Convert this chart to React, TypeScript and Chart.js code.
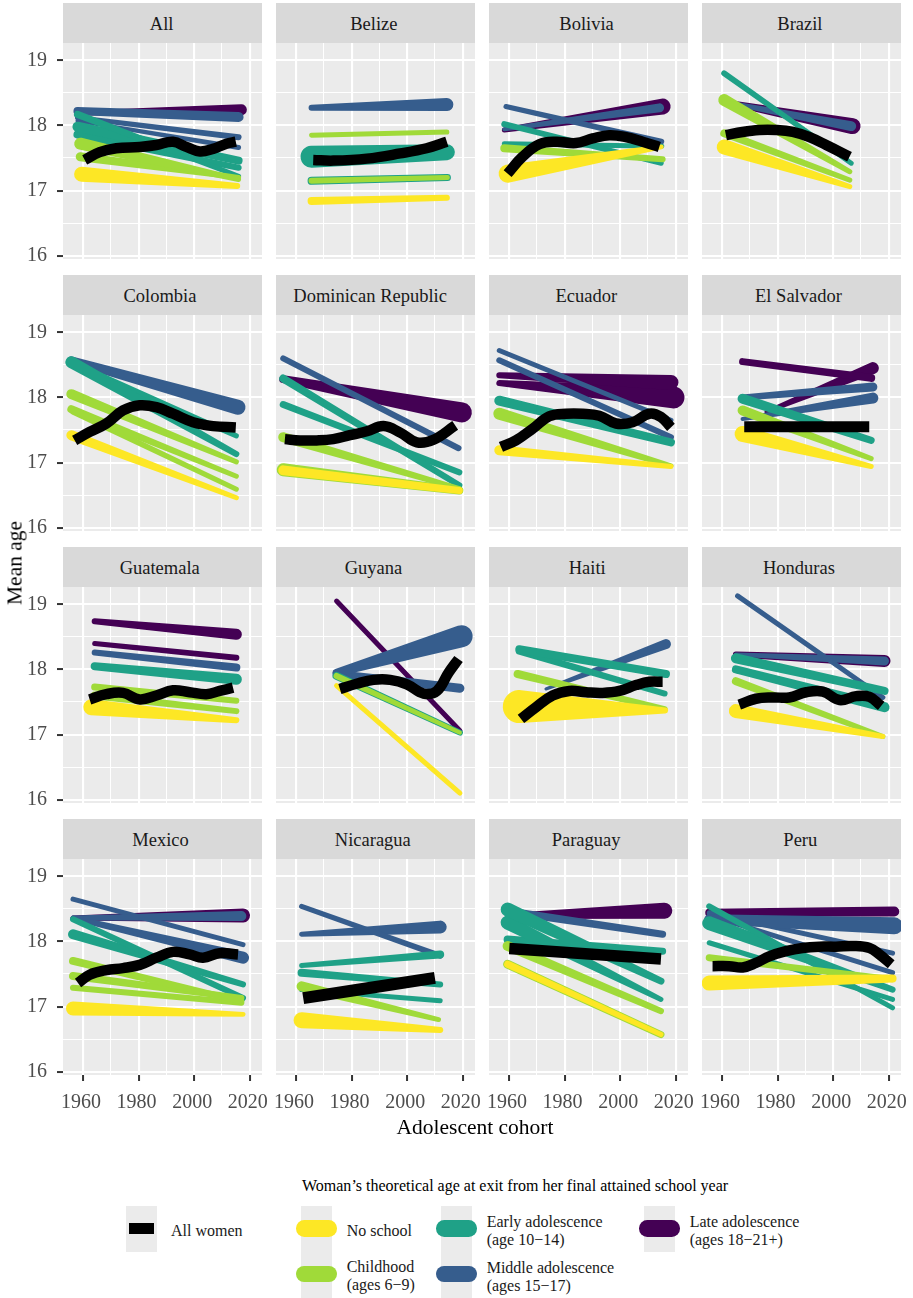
import React, { useEffect, useRef } from 'react';
import { Chart, registerables } from 'chart.js';

Chart.register(...registerables);

// ---------------- data ----------------
const PANELS = ['All', 'Belize', 'Bolivia', 'Brazil', 'Colombia', 'Dominican Republic', 'Ecuador', 'El Salvador',
  'Guatemala', 'Guyana', 'Haiti', 'Honduras', 'Mexico', 'Nicaragua', 'Paraguay', 'Peru'];

const CATEGORIES = ['No school', 'Childhood', 'Early adolescence', 'Middle adolescence', 'Late adolescence'];
const CATEGORY_SUB = ['', '(ages 6\u22129)', '(age 10\u221214)', '(ages 15\u221217)', '(ages 18\u221221+)'];
const CATEGORY_COLORS = ['#FDE725', '#A0DA39', '#1FA187', '#365D8D', '#440154'];

const X_TICKS = [1960, 1970, 1980, 1990, 2000, 2010, 2020];
const Y_TICKS = [16, 16.5, 17, 17.5, 18, 18.5, 19];

// each row: [category, startCohort, startAge, endCohort, endAge, startWeight, endWeight]
const allLines = [
  [4, 1958, 18.19, 2017, 18.24, 5, 11],
  [3, 1958, 18.22, 2016, 18.13, 8, 10],
  [3, 1958, 18.12, 2016, 17.82, 5, 6],
  [3, 1958, 18.07, 2016, 17.66, 4, 5],
  [2, 1958, 18.17, 2016, 17.22, 7, 5],
  [2, 1958, 17.98, 2016, 17.46, 10, 8],
  [2, 1958, 17.86, 2016, 17.35, 8, 6],
  [1, 1959, 17.72, 2016, 17.17, 12, 5],
  [1, 1959, 17.52, 2016, 17.2, 9, 5],
  [0, 1959.5, 17.25, 2015.5, 17.07, 15, 6],
];
const allCohort = [1960.6, 1966, 1972, 1980.4, 1986.4, 1992.4, 1997.2, 2002, 2006.8, 2011.6, 2015];
const allAge = [17.47, 17.59, 17.65, 17.67, 17.7, 17.75, 17.67, 17.6, 17.64, 17.72, 17.75];

const belizeLines = [
  [3, 1965.6, 18.27, 2014.3, 18.32, 6, 13],
  [1, 1965.6, 17.85, 2014.3, 17.9, 5, 5],
  [2, 1965.6, 17.52, 2014.3, 17.59, 22, 16],
  [2, 1965.6, 17.15, 2014.5, 17.2, 8, 7],
  [1, 1965.6, 17.15, 2014.5, 17.2, 6, 5],
  [0, 1965.6, 16.84, 2014.3, 16.89, 8, 6],
];
const belizeCohort = [1966.2, 1973.4, 1985.5, 1997.5, 2007, 2014.3];
const belizeAge = [17.47, 17.46, 17.49, 17.57, 17.65, 17.75];

const boliviaLines = [
  [4, 1958.3, 17.93, 2015.3, 18.29, 5, 16],
  [3, 1958.3, 17.94, 2014.2, 18.27, 4, 9],
  [3, 1958.9, 18.29, 2014.8, 17.75, 5, 6],
  [2, 1958.3, 18.02, 2014.8, 17.42, 6, 5],
  [2, 1958.3, 17.72, 2015, 17.68, 5, 5],
  [1, 1958.3, 17.65, 2015.3, 17.48, 8, 6],
  [0, 1959.5, 17.26, 2014.8, 17.67, 18, 5],
];
const boliviaCohort = [1959.5, 1964.9, 1970.9, 1976.9, 1984.1, 1990.1, 1996.1, 2002.1, 2008.1, 2014.1];
const boliviaAge = [17.26, 17.52, 17.71, 17.75, 17.73, 17.8, 17.85, 17.82, 17.75, 17.67];

const brazilLines = [
  [4, 1961, 18.36, 2007, 17.99, 5, 16],
  [3, 1961, 18.36, 2006.5, 17.99, 4, 10],
  [2, 1960.8, 18.8, 2006.5, 17.42, 6, 5],
  [1, 1960.8, 18.39, 2006, 17.29, 12, 5],
  [1, 1960.8, 17.88, 2006, 17.16, 8, 5],
  [0, 1960.8, 17.67, 2006, 17.06, 15, 5],
];
const brazilCohort = [1961.4, 1967.4, 1973.4, 1979.4, 1985.5, 1991.5, 1997.5, 2005.9];
const brazilAge = [17.85, 17.9, 17.93, 17.93, 17.9, 17.82, 17.7, 17.52];

const colombiaLines = [
  [3, 1955.8, 18.57, 2015.8, 17.85, 8, 15],
  [2, 1955.8, 18.54, 2015.2, 17.13, 12, 6],
  [2, 1955.8, 18.52, 2015.2, 17.41, 8, 5],
  [1, 1955.8, 18.05, 2015.2, 17.01, 10, 5],
  [1, 1955.8, 17.82, 2015.2, 16.79, 8, 5],
  [1, 1956.5, 17.78, 2015.2, 16.59, 6, 5],
  [0, 1955.8, 17.42, 2015.2, 16.46, 10, 5],
];
const colombiaCohort = [1957, 1962.4, 1968.4, 1974.4, 1980.4, 1986.4, 1992.4, 1999.6, 2006.8, 2015];
const colombiaAge = [17.34, 17.47, 17.6, 17.8, 17.88, 17.85, 17.75, 17.62, 17.56, 17.54];

const dominicanLines = [
  [4, 1955.4, 18.28, 2019.7, 17.77, 8, 20],
  [3, 1955.4, 18.6, 2018.5, 17.22, 6, 6],
  [2, 1955.4, 18.29, 2018.8, 16.65, 8, 6],
  [2, 1955.4, 17.89, 2018.8, 16.85, 7, 6],
  [1, 1955.4, 17.39, 2018.8, 16.6, 10, 5],
  [1, 1955.4, 16.89, 2018.8, 16.57, 13, 8],
  [0, 1955.4, 16.88, 2018.8, 16.57, 10, 7],
];
const dominicanCohort = [1956, 1961.4, 1967.4, 1973.4, 1979.4, 1985.5, 1991.5, 1997.5, 2003.5, 2009.5, 2017.3];
const dominicanAge = [17.36, 17.34, 17.34, 17.36, 17.42, 17.48, 17.56, 17.46, 17.31, 17.35, 17.57];

const ecuadorLines = [
  [4, 1956.5, 18.34, 2018.3, 18.23, 6, 15],
  [4, 1956.5, 18.22, 2019.2, 18.0, 6, 22],
  [3, 1956.5, 18.72, 2018.3, 17.65, 5, 5],
  [3, 1956.5, 18.57, 2018.3, 17.39, 6, 6],
  [2, 1956.5, 17.95, 2018.3, 17.31, 10, 8],
  [1, 1956.5, 17.75, 2018.3, 16.95, 12, 5],
  [0, 1956.5, 17.19, 2018.3, 16.94, 10, 5],
];
const ecuadorCohort = [1957.1, 1962.5, 1968.5, 1974.5, 1980.5, 1986.5, 1992.5, 1998.5, 2004.5, 2010.5, 2014.7, 2018.3];
const ecuadorAge = [17.24, 17.34, 17.52, 17.71, 17.75, 17.75, 17.72, 17.6, 17.62, 17.75, 17.7, 17.54];

const elSalvadorLines = [
  [4, 1967.4, 18.55, 2013.7, 18.3, 7, 8],
  [4, 1976, 17.78, 2014.3, 18.45, 4, 12],
  [3, 1967.4, 18.0, 2014.3, 18.16, 6, 9],
  [3, 1967.4, 17.67, 2014.3, 17.99, 4, 11],
  [2, 1967.4, 17.98, 2013.7, 17.34, 10, 7],
  [1, 1967.4, 17.8, 2013.7, 17.06, 10, 5],
  [0, 1967.4, 17.44, 2013.7, 16.94, 16, 5],
];
const elSalvadorCohort = [1968, 2013];
const elSalvadorAge = [17.55, 17.55];

const guatemalaLines = [
  [4, 1964.2, 18.74, 2015.2, 18.54, 6, 11],
  [4, 1964.2, 18.4, 2015.2, 18.18, 5, 6],
  [3, 1964.2, 18.26, 2015.2, 18.03, 6, 8],
  [2, 1964.2, 18.05, 2015.2, 17.85, 8, 11],
  [1, 1964.2, 17.73, 2015.2, 17.52, 7, 6],
  [1, 1964.2, 17.6, 2015.2, 17.36, 8, 6],
  [0, 1963, 17.42, 2015.2, 17.22, 16, 6],
];
const guatemalaCohort = [1962.4, 1968.4, 1974.4, 1980.4, 1986.4, 1992.4, 1998.4, 2004.4, 2009.2, 2014];
const guatemalaAge = [17.54, 17.62, 17.64, 17.54, 17.6, 17.68, 17.65, 17.62, 17.67, 17.72];

const guyanaLines = [
  [4, 1974.6, 19.05, 2019, 17.06, 5, 5],
  [3, 1974.6, 17.95, 2019.6, 18.51, 8, 22],
  [3, 1974.6, 17.93, 2019, 17.71, 8, 9],
  [2, 1974.6, 17.9, 2019, 17.03, 8, 6],
  [1, 1974.6, 17.9, 2019, 17.03, 6, 4],
  [0, 1974.6, 17.75, 2019, 16.1, 5, 5],
];
const guyanaCohort = [1975.8, 1981.8, 1987.9, 1993.9, 1999.9, 2005.9, 2010.7, 2014.9, 2018.5];
const guyanaAge = [17.7, 17.78, 17.84, 17.84, 17.77, 17.63, 17.67, 17.95, 18.16];

const haitiLines = [
  [3, 1973.3, 17.7, 2016.5, 18.39, 3, 10],
  [2, 1963.7, 18.31, 2016.5, 17.93, 8, 8],
  [2, 1963.7, 18.28, 2016, 17.63, 7, 6],
  [1, 1963.1, 17.93, 2016, 17.39, 8, 6],
  [0, 1963.7, 17.43, 2016.2, 17.37, 33, 6],
];
const haitiCohort = [1964.3, 1969.7, 1975.7, 1981.7, 1987.7, 1993.7, 1999.7, 2005.7, 2010.5, 2015.3];
const haitiAge = [17.24, 17.42, 17.6, 17.67, 17.65, 17.64, 17.67, 17.76, 17.81, 17.81];

const hondurasLines = [
  [4, 1965, 18.23, 2018.5, 18.13, 6, 12],
  [3, 1965.6, 19.13, 2017.9, 17.57, 5, 5],
  [3, 1965, 18.23, 2018.5, 18.13, 4, 9],
  [2, 1965, 18.17, 2018.5, 17.67, 10, 8],
  [2, 1965, 18.0, 2018.5, 17.42, 8, 10],
  [1, 1965, 17.82, 2017.9, 16.97, 8, 5],
  [0, 1965, 17.36, 2017.9, 16.97, 14, 5],
];
const hondurasCohort = [1966.2, 1972.2, 1978.2, 1984.2, 1990.3, 1996.3, 2002.3, 2008.3, 2013.1, 2017.3];
const hondurasAge = [17.46, 17.55, 17.57, 17.57, 17.65, 17.66, 17.53, 17.59, 17.58, 17.44];

const mexicoLines = [
  [4, 1956.4, 18.36, 2017.6, 18.4, 5, 14],
  [3, 1956.4, 18.36, 2017, 18.39, 5, 10],
  [3, 1956.4, 18.65, 2017.6, 17.95, 5, 5],
  [3, 1956.4, 18.36, 2017.6, 17.75, 5, 12],
  [2, 1956.4, 18.34, 2017.6, 17.13, 6, 6],
  [2, 1956.4, 18.11, 2017.6, 17.34, 10, 6],
  [1, 1956.4, 17.7, 2017, 17.08, 8, 6],
  [1, 1956.4, 17.47, 2017, 17.13, 8, 6],
  [1, 1956.4, 17.29, 2017, 17.06, 6, 6],
  [0, 1956.4, 16.97, 2017.6, 16.88, 14, 5],
];
const mexicoCohort = [1958.2, 1962.4, 1968.4, 1974.4, 1980.4, 1986.4, 1992.4, 1998.4, 2003.2, 2009.2, 2015.8];
const mexicoAge = [17.36, 17.49, 17.56, 17.59, 17.64, 17.75, 17.84, 17.8, 17.75, 17.82, 17.8];

const nicaraguaLines = [
  [3, 1962, 18.54, 2011.9, 17.78, 5, 6],
  [3, 1962, 18.11, 2011.9, 18.22, 5, 13],
  [2, 1962, 17.63, 2011.9, 17.8, 5, 8],
  [2, 1962, 17.52, 2011.9, 17.34, 8, 6],
  [2, 1962, 17.26, 2011.9, 17.09, 5, 5],
  [1, 1962, 17.31, 2011.3, 16.8, 10, 5],
  [0, 1962, 16.79, 2011.9, 16.64, 16, 6],
];
const nicaraguaCohort = [1962.6, 2010];
const nicaraguaAge = [17.13, 17.44];

const paraguayLines = [
  [4, 1960, 18.39, 2015.9, 18.47, 6, 16],
  [3, 1960, 18.46, 2015.3, 18.11, 8, 7],
  [2, 1959.5, 18.49, 2014.7, 17.39, 14, 7],
  [2, 1959.5, 18.29, 2014.7, 17.11, 14, 5],
  [2, 1959.5, 18.03, 2015.3, 17.85, 8, 7],
  [1, 1959.5, 17.93, 2014.7, 16.93, 10, 6],
  [1, 1959.5, 17.65, 2014.7, 16.57, 9, 7],
  [0, 1959.5, 17.65, 2014.7, 16.57, 7, 5],
];
const paraguayCohort = [1960.1, 2014.7];
const paraguayAge = [17.89, 17.73];

const peruLines = [
  [4, 1955.4, 18.44, 2022, 18.46, 8, 10],
  [3, 1955.4, 18.34, 2022, 18.24, 10, 17],
  [3, 1955.4, 18.44, 2021.4, 17.82, 5, 5],
  [3, 1955.4, 18.4, 2021.4, 17.52, 5, 5],
  [2, 1955.4, 18.54, 2021.4, 16.98, 6, 5],
  [2, 1955.4, 18.28, 2021.4, 17.26, 14, 6],
  [2, 1955.4, 17.98, 2021.4, 17.11, 5, 5],
  [1, 1955.4, 17.75, 2021.4, 17.42, 7, 6],
  [0, 1955.4, 17.36, 2021.4, 17.43, 15, 8],
];
const peruCohort = [1956.6, 1962.6, 1967.4, 1972.2, 1977, 1983, 1989, 1995, 2001, 2007.1, 2013.1, 2016.7, 2020.9];
const peruAge = [17.62, 17.62, 17.6, 17.67, 17.77, 17.85, 17.9, 17.92, 17.92, 17.93, 17.9, 17.8, 17.65];

const PANEL_LINES = [allLines, belizeLines, boliviaLines, brazilLines, colombiaLines, dominicanLines, ecuadorLines,
  elSalvadorLines, guatemalaLines, guyanaLines, haitiLines, hondurasLines, mexicoLines, nicaraguaLines, paraguayLines, peruLines];
const PANEL_COHORT = [allCohort, belizeCohort, boliviaCohort, brazilCohort, colombiaCohort, dominicanCohort, ecuadorCohort,
  elSalvadorCohort, guatemalaCohort, guyanaCohort, haitiCohort, hondurasCohort, mexicoCohort, nicaraguaCohort, paraguayCohort, peruCohort];
const PANEL_AGE = [allAge, belizeAge, boliviaAge, brazilAge, colombiaAge, dominicanAge, ecuadorAge,
  elSalvadorAge, guatemalaAge, guyanaAge, haitiAge, hondurasAge, mexicoAge, nicaraguaAge, paraguayAge, peruAge];

// ---------------- layout / style ----------------
const SERIF = "'Liberation Serif', 'Times New Roman', serif";
const COL_LEFT = [63, 276, 489, 702];
const ROW_TOP = [43, 315, 587, 859];
const PANEL_W = 199;
const PANEL_H = 216;
const STRIP_H = 40;
const M = 24;
const YAXIS_W = 63;
const XAXIS_H = 45;
const X_MIN = 1952.8;
const X_MAX = 2024.43;
const Y_MIN = 15.949;
const Y_MAX = 19.266;
const WIDTH_PER_WEIGHT = 1;

const panelBg = {
  id: 'panelBg',
  beforeDraw(chart: any) {
    const { ctx, chartArea: a } = chart;
    ctx.save();
    ctx.fillStyle = '#EBEBEB';
    ctx.fillRect(a.left, a.top, a.right - a.left, a.bottom - a.top);
    ctx.restore();
  },
};

function drawTaper(ctx: CanvasRenderingContext2D, x0: number, y0: number, r0: number, x1: number, y1: number, r1: number) {
  const dx = x1 - x0, dy = y1 - y0;
  const d = Math.hypot(dx, dy);
  const th = Math.atan2(dy, dx);
  ctx.beginPath();
  if (d <= Math.abs(r0 - r1) + 0.01) {
    const r = Math.max(r0, r1);
    ctx.arc(r0 >= r1 ? x0 : x1, r0 >= r1 ? y0 : y1, r, 0, Math.PI * 2);
  } else {
    const a = Math.acos((r0 - r1) / d);
    ctx.arc(x0, y0, r0, th + a, th - a + Math.PI * 2);
    ctx.arc(x1, y1, r1, th - a, th + a);
    ctx.closePath();
  }
  ctx.fill();
}

const taperPlugin = {
  id: 'taper',
  beforeDatasetDraw(chart: any, args: any) {
    const ds = chart.data.datasets[args.index];
    if (!ds.taper) return;
    const pts = args.meta.data;
    if (!pts || pts.length < 2) return false;
    const ctx = chart.ctx;
    const a = chart.chartArea;
    ctx.save();
    ctx.beginPath();
    ctx.rect(a.left, a.top, a.right - a.left, a.bottom - a.top);
    ctx.clip();
    ctx.fillStyle = ds.taperColor;
    drawTaper(ctx, pts[0].x, pts[0].y, (ds.taper[0] * WIDTH_PER_WEIGHT) / 2, pts[1].x, pts[1].y, (ds.taper[1] * WIDTH_PER_WEIGHT) / 2);
    ctx.restore();
    return false;
  },
};

const ALL_WOMEN_WIDTH = [10.5, 10.5, 10.5, 10.5, 10.5, 10.5, 10.5, 11, 10.5, 10.5, 10.5, 10.5, 10.5, 12, 11.5, 10.5];

function buildConfig(idx: number): any {
  const row = Math.floor(idx / 4);
  const col = idx % 4;
  const isLeft = col === 0;
  const isBottom = row === 3;
  const datasets: any[] = [];
  PANEL_LINES[idx].forEach((r) => {
    const [cat, x0, y0, x1, y1, w0, w1] = r;
    datasets.push({
      label: CATEGORIES[cat],
      data: [{ x: x0, y: y0 }, { x: x1, y: y1 }],
      taper: [w0, w1],
      taperColor: CATEGORY_COLORS[cat],
      order: cat + 1,
      showLine: false,
      pointRadius: 0,
      pointHoverRadius: 0,
      borderWidth: 0,
      backgroundColor: CATEGORY_COLORS[cat],
      borderColor: CATEGORY_COLORS[cat],
    });
  });
  datasets.push({
    label: 'All women',
    data: PANEL_COHORT[idx].map((x, i) => ({ x, y: PANEL_AGE[idx][i] })),
    showLine: true,
    borderColor: '#000000',
    backgroundColor: '#000000',
    borderWidth: ALL_WOMEN_WIDTH[idx],
    tension: 0.4,
    pointRadius: 0,
    pointHoverRadius: 0,
    borderCapStyle: 'butt',
    borderJoinStyle: 'round',
    order: 0,
    fill: false,
  });

  const tickFont = { family: SERIF, size: 20 };
  return {
    type: 'scatter',
    data: { datasets },
    options: {
      animation: false,
      responsive: false,
      maintainAspectRatio: false,
      devicePixelRatio: 1,
      events: [],
      layout: { padding: { left: isLeft ? 0 : M, right: M, top: M, bottom: M } },
      plugins: { legend: { display: false }, tooltip: { enabled: false }, title: { display: false } },
      scales: {
        x: {
          type: 'linear',
          min: X_MIN,
          max: X_MAX,
          afterBuildTicks: (s: any) => { s.ticks = X_TICKS.map((v) => ({ value: v })); },
          afterFit: (s: any) => { s.height = isBottom ? XAXIS_H : 0; },
          border: { display: false },
          grid: {
            color: '#FFFFFF',
            lineWidth: (c: any) => (c.tick && c.tick.value % 20 === 0 ? 2.1 : 1.05),
            drawTicks: isBottom,
            tickLength: 6,
            tickWidth: 2,
            tickColor: (c: any) => (c.tick && c.tick.value % 20 === 0 ? '#333333' : 'rgba(0,0,0,0)'),
          },
          ticks: {
            display: isBottom,
            autoSkip: false,
            maxRotation: 0,
            minRotation: 0,
            padding: 10,
            labelOffset: -2,
            color: '#4D4D4D',
            font: tickFont,
            callback: (v: any) => (Number(v) % 20 === 0 ? String(v) : ''),
          },
        },
        y: {
          type: 'linear',
          min: Y_MIN,
          max: Y_MAX,
          afterBuildTicks: (s: any) => { s.ticks = Y_TICKS.map((v) => ({ value: v })); },
          afterFit: (s: any) => { s.width = isLeft ? YAXIS_W : 0; },
          border: { display: false },
          grid: {
            color: '#FFFFFF',
            lineWidth: (c: any) => (c.tick && Number.isInteger(c.tick.value) ? 2.1 : 1.05),
            drawTicks: isLeft,
            tickLength: 6,
            tickWidth: 2,
            tickColor: (c: any) => (c.tick && Number.isInteger(c.tick.value) ? '#333333' : 'rgba(0,0,0,0)'),
          },
          ticks: {
            display: isLeft,
            autoSkip: false,
            padding: 10,
            color: '#4D4D4D',
            font: tickFont,
            callback: (v: any) => (Number.isInteger(Number(v)) ? String(v) : ''),
          },
        },
      },
    },
    plugins: [panelBg, taperPlugin],
  };
}

function Panel({ idx }: { idx: number }) {
  const ref = useRef<HTMLCanvasElement>(null);
  const row = Math.floor(idx / 4);
  const col = idx % 4;
  const left = col === 0 ? 0 : COL_LEFT[col] - M;
  const width = (col === 0 ? YAXIS_W : M) + PANEL_W + M;
  const top = ROW_TOP[row] - M;
  const height = M + PANEL_H + (row === 3 ? XAXIS_H : 0) + M;
  useEffect(() => {
    if (!ref.current) return;
    const chart = new Chart(ref.current, buildConfig(idx));
    return () => chart.destroy();
  }, [idx]);
  return (
    <canvas
      ref={ref}
      width={width}
      height={height}
      style={{ position: 'absolute', left, top, width, height }}
    />
  );
}

function Strip({ idx }: { idx: number }) {
  const row = Math.floor(idx / 4);
  const col = idx % 4;
  return (
    <div
      style={{
        position: 'absolute',
        left: COL_LEFT[col],
        top: ROW_TOP[row] - STRIP_H,
        width: PANEL_W,
        height: STRIP_H,
        background: '#D9D9D9',
        color: '#1A1A1A',
        fontFamily: SERIF,
        fontSize: 18.5,
        display: 'flex',
        alignItems: 'center',
        justifyContent: 'center',
        whiteSpace: 'nowrap',
      }}
    >
      <span style={{ display: 'inline-block', transform: 'translate(-3.5%, 1px)' }}>{PANELS[idx]}</span>
    </div>
  );
}

const textStyle = (left: number, top: number, size = 16): React.CSSProperties => ({
  position: 'absolute',
  left,
  top,
  fontFamily: SERIF,
  fontSize: size,
  lineHeight: '18px',
  color: '#1A1A1A',
  whiteSpace: 'nowrap',
});

function Legend() {
  const keyBg = '#EBEBEB';
  const pill = (cx: number, cy: number, color: string) => (
    <div
      style={{
        position: 'absolute',
        left: cx - 20.5,
        top: cy - 8.25,
        width: 41,
        height: 16.5,
        borderRadius: 8.25,
        background: color,
      }}
    />
  );
  return (
    <>
      <div style={{ ...textStyle(302, 1176.7, 16), color: '#000' }}>
        Woman{'\u2019'}s theoretical age at exit from her final attained school year
      </div>
      {/* All women */}
      <div style={{ position: 'absolute', left: 126, top: 1206, width: 31, height: 46, background: keyBg }} />
      <div style={{ position: 'absolute', left: 129, top: 1223.3, width: 25, height: 11, background: '#000' }} />
      <div style={textStyle(171, 1222)}>All women</div>
      {/* column 2 */}
      <div style={{ position: 'absolute', left: 301, top: 1206, width: 31, height: 92, background: keyBg }} />
      {pill(316.5, 1228.3, CATEGORY_COLORS[0])}
      {pill(316.5, 1274, CATEGORY_COLORS[1])}
      <div style={textStyle(346.7, 1222)}>{CATEGORIES[0]}</div>
      <div style={textStyle(346.7, 1258)}>
        {CATEGORIES[1]}
        <br />
        {CATEGORY_SUB[1]}
      </div>
      {/* column 3 */}
      <div style={{ position: 'absolute', left: 441, top: 1206, width: 31, height: 92, background: keyBg }} />
      {pill(456.2, 1228.3, CATEGORY_COLORS[2])}
      {pill(456.2, 1274, CATEGORY_COLORS[3])}
      <div style={textStyle(486.7, 1213.3)}>
        {CATEGORIES[2]}
        <br />
        {CATEGORY_SUB[2]}
      </div>
      <div style={textStyle(486.7, 1259.3)}>
        {CATEGORIES[3]}
        <br />
        {CATEGORY_SUB[3]}
      </div>
      {/* column 4 */}
      <div style={{ position: 'absolute', left: 644, top: 1206, width: 31, height: 46, background: keyBg }} />
      {pill(659.7, 1228.3, CATEGORY_COLORS[4])}
      <div style={textStyle(689.7, 1213.3)}>
        {CATEGORIES[4]}
        <br />
        {CATEGORY_SUB[4]}
      </div>
    </>
  );
}

export default function App() {
  useEffect(() => {
    document.body.style.margin = '0';
  }, []);
  return (
    <div
      style={{
        position: 'absolute',
        left: 0,
        top: 0,
        width: 913,
        height: 1298,
        background: '#FFFFFF',
        overflow: 'hidden',
        fontFamily: SERIF,
      }}
    >
      {PANELS.map((_, i) => (
        <Strip key={'s' + i} idx={i} />
      ))}
      {PANELS.map((_, i) => (
        <Panel key={'p' + i} idx={i} />
      ))}
      <div
        style={{
          position: 'absolute',
          left: 15,
          top: 563,
          transform: 'translate(-50%, -50%) rotate(-90deg)',
          fontFamily: SERIF,
          fontSize: 21.5,
          color: '#000',
          whiteSpace: 'nowrap',
        }}
      >
        Mean age
      </div>
      <div
        style={{
          position: 'absolute',
          left: 475,
          top: 1127,
          transform: 'translate(-50%, -50%)',
          fontFamily: SERIF,
          fontSize: 21.5,
          color: '#000',
          whiteSpace: 'nowrap',
        }}
      >
        Adolescent cohort
      </div>
      <Legend />
    </div>
  );
}
